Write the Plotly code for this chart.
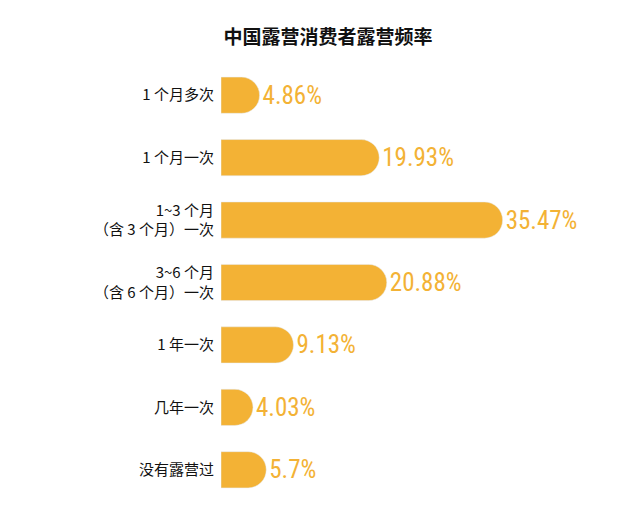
import plotly.graph_objects as go

categories = ["1 个月多次", "1 个月一次", "1~3 个月<br>（含 3 个月）一次", "3~6 个月<br>（含 6 个月）一次",
              "1 年一次", "几年一次", "没有露营过"]
values = [4.86, 19.93, 35.47, 20.88, 9.13, 4.03, 5.7]
labels = ["4.86%", "19.93%", "35.47%", "20.88%", "9.13%", "4.03%", "5.7%"]

orange = "#F3B235"
fig = go.Figure(go.Bar(
    x=values, y=categories, orientation="h", marker_color=orange,
    text=labels, textposition="outside", cliponaxis=False,
    textfont=dict(family="Roboto Condensed, Liberation Sans Narrow, Roboto", size=25, color=orange),
    width=0.58,
))
fig.update_layout(
    width=640, height=511, paper_bgcolor="white", plot_bgcolor="white",
    margin=dict(l=213, r=30, t=56, b=18, autoexpand=False),
    barcornerradius="50%",
    title=dict(text="<b>中国露营消费者露营频率</b>", x=0.5, xanchor="center", y=0.955,
               font=dict(family="Noto Sans CJK SC", size=19, color="#111")),
    xaxis=dict(range=[0, 50], visible=False, automargin=False),
    yaxis=dict(autorange="reversed", showgrid=False, showline=False, ticks="",
               ticklabelstandoff=6, automargin=False,
               tickfont=dict(family="Noto Sans CJK SC", size=15, color="#111")),
    showlegend=False,
)
fig.write_html("out.html")
